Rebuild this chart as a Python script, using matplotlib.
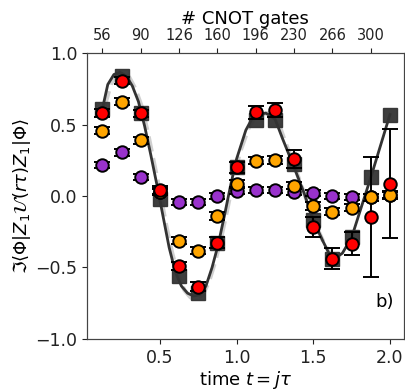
import matplotlib.pyplot as plt
import numpy as np

# time points of the measured data
t = [0.125, 0.25, 0.375, 0.5, 0.625, 0.75, 0.875, 1.0,
     1.125, 1.25, 1.375, 1.5, 1.625, 1.75, 1.875, 2.0]

exact = [0.61, 0.84, 0.58, -0.02, -0.56, -0.68, -0.33, 0.20,
         0.535, 0.53, 0.225, -0.17, -0.44, -0.29, 0.13, 0.565]

red = [0.58, 0.805, 0.578, 0.042, -0.49, -0.634, -0.326, 0.20,
       0.585, 0.60, 0.26, -0.215, -0.438, -0.333, -0.145, 0.086]
red_err = [0.025, 0.025, 0.025, 0.025, 0.03, 0.03, 0.04, 0.04,
           0.045, 0.05, 0.065, 0.07, 0.075, 0.08, 0.42, 0.38]

orange = [0.457, 0.66, 0.39, 0.03, -0.312, -0.382, -0.14, 0.087,
          0.247, 0.252, 0.072, -0.07, -0.11, -0.082, -0.01, 0.007]
orange_err = [0.025] * 16

purple = [0.217, 0.305, 0.135, 0.03, -0.044, -0.044, 0.0, 0.037,
          0.042, 0.042, 0.03, 0.019, 0.0, -0.005, -0.01, 0.005]
purple_err = [0.022] * 16

# theory curves
t_line = [0.125, 0.16, 0.20, 0.24, 0.28, 0.32, 0.36, 0.40, 0.44, 0.48,
          0.52, 0.56, 0.60, 0.64, 0.68, 0.72, 0.76, 0.80, 0.84, 0.88,
          0.92, 0.96, 1.00, 1.06, 1.11, 1.19, 1.25, 1.30, 1.375, 1.44,
          1.50, 1.56, 1.625, 1.69, 1.75, 1.875, 2.0]
y_line = [0.61, 0.78, 0.85, 0.865, 0.84, 0.77, 0.66, 0.49, 0.29, 0.08,
          -0.14, -0.36, -0.53, -0.63, -0.68, -0.70, -0.69, -0.63, -0.50, -0.34,
          -0.14, 0.07, 0.26, 0.46, 0.56, 0.58, 0.54, 0.40, 0.20, 0.02,
          -0.17, -0.31, -0.45, -0.40, -0.29, 0.13, 0.57]

t_dash = [0.14, 0.18, 0.22, 0.26, 0.30, 0.34, 0.38, 0.42, 0.46, 0.50,
          0.54, 0.58, 0.62, 0.66, 0.70, 0.74, 0.78, 0.82, 0.86, 0.90,
          0.94, 0.98, 1.02, 1.08, 1.13, 1.21, 1.27, 1.32, 1.39, 1.45,
          1.51, 1.57, 1.635]
y_dash = [0.63, 0.78, 0.85, 0.86, 0.83, 0.75, 0.63, 0.45, 0.24, 0.03,
          -0.20, -0.40, -0.56, -0.66, -0.71, -0.72, -0.69, -0.60, -0.46, -0.29,
          -0.09, 0.12, 0.30, 0.48, 0.57, 0.58, 0.52, 0.37, 0.17, -0.01,
          -0.19, -0.33, -0.45]

top_ticks = [0.125, 0.375, 0.625, 0.875, 1.125, 1.375, 1.625, 1.875]
top_labels = ["56", "90", "126", "160", "196", "230", "266", "300"]

fig = plt.figure(figsize=(4.05, 3.9), dpi=100)
ax = fig.add_axes([0.215, 0.131, 0.782, 0.733])

ax.plot(t_dash, y_dash, "--", color="#d0d0d0", lw=3, zorder=1)
ax.plot(t, exact, "s", color="#333333", ms=9.5, alpha=0.95, zorder=2)
ax.plot(t_line, y_line, "-", color="#333333", lw=2, zorder=3)

for vals, errs, col in [(purple, purple_err, "#9932CC"),
                        (orange, orange_err, "#FFA500"),
                        (red, red_err, "#FF0000")]:
    ax.errorbar(t, vals, yerr=errs, fmt="o", color=col, mec="black", mew=1.4,
                ms=9, ecolor="black", elinewidth=1.4, capsize=6, capthick=1.4,
                zorder=4)

ax.set_xlim(0.025, 2.09)
ax.set_ylim(-1, 1)
ax.set_xticks([0.5, 1.0, 1.5, 2.0])
ax.set_yticks([-1.0, -0.5, 0.0, 0.5, 1.0])
ax.tick_params(labelsize=12.5, colors="#222222")
ax.set_xlabel(r"time $t = j\tau$", fontsize=13, labelpad=2)
ax.set_ylabel(r"$\Im\langle\Phi|Z_1\mathcal{U}(r\tau)Z_1|\Phi\rangle$", fontsize=13, labelpad=2)
ax.text(0.97, 0.13, "b)", transform=ax.transAxes, fontsize=13, ha="right", va="center")

ax2 = ax.twiny()
ax2.set_xlim(ax.get_xlim())
ax2.set_xticks(top_ticks)
ax2.set_xticklabels(top_labels)
ax2.tick_params(labelsize=10.5, colors="#222222")
ax2.set_xlabel("# CNOT gates", fontsize=13, labelpad=3)

for a in (ax, ax2):
    for s in a.spines.values():
        s.set_color("#444444")

fig.savefig("out.png", dpi=100)
